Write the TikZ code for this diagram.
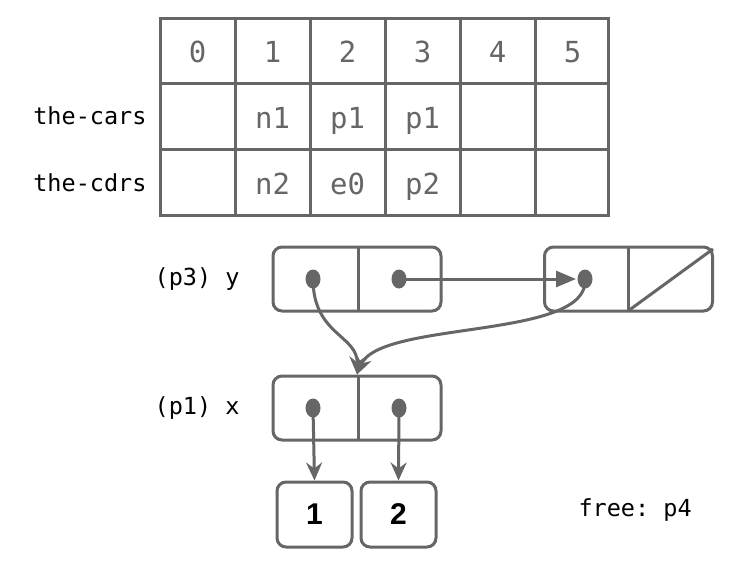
\documentclass[tikz,border=0pt]{standalone}
\usepackage{fontspec}
\setmonofont{DejaVu Sans Mono}
\setsansfont{Liberation Sans}
\usepackage{tikz}
\usetikzlibrary{arrows.meta,shapes.geometric}

\definecolor{inkgray}{HTML}{666666}

\begin{document}
\begin{tikzpicture}[x=1pt,y=-1pt,line width=3pt,draw=inkgray,
    every node/.style={inner sep=0pt},
    cell/.style={draw=inkgray,fill=white,rounded corners=9pt,minimum width=168pt,minimum height=64pt},
    numbox/.style={draw=inkgray,rounded corners=9pt,minimum width=75pt,minimum height=65pt,
      font=\sffamily\bfseries\fontsize{30}{30}\selectfont},
    dot/.style={ellipse,fill=inkgray,minimum width=15pt,minimum height=19pt},
    entry/.style={anchor=base,text=inkgray,font=\ttfamily\fontsize{29}{29}\selectfont},
    label/.style={font=\ttfamily\fontsize{23.5}{24}\selectfont},
    ptr/.style={draw=inkgray,-{Stealth[length=18pt,width=16pt,inset=6pt]}},
    hptr/.style={draw=inkgray,-{Triangle[length=20pt,width=16pt]}}]
  \useasboundingbox (0,0) rectangle (736,570);

  % the table
  \draw (160,18) rectangle (608,215);
  \foreach \x in {235,310,385,460,535} \draw (\x,18) -- (\x,215);
  \foreach \y in {83,149} \draw (160,\y) -- (608,\y);
  \foreach \i [evaluate=\i as \cx using 197.5+75*\i] in {0,...,5}
    \node[entry] (head\i) at (\cx,62) {\i};
  \node[entry] (car1) at (272.5,128) {n1};
  \node[entry] (car2) at (347.5,128) {p1};
  \node[entry] (car3) at (422.5,128) {p1};
  \node[entry] (cdr1) at (272.5,194) {n2};
  \node[entry] (cdr2) at (347.5,194) {e0};
  \node[entry] (cdr3) at (422.5,194) {p2};
  \node[label,anchor=east] (cars) at (148,116) {the-cars};
  \node[label,anchor=east] (cdrs) at (148,183) {the-cdrs};

  % cons cells
  \node[cell] (y) at (357,279) {};
  \draw (358,247) -- (358,311);
  \node[cell] (n) at (628.5,279) {};
  \draw (628,247) -- (628,311);
  \draw (628,311) -- (713,249);
  \node[cell] (x) at (357,408) {};
  \draw (358,376) -- (358,440);

  \node[label,anchor=east] (ylab) at (241,279) {(p3) y};
  \node[label,anchor=east] (xlab) at (241,408) {(p1) x};

  \node[dot] (ycar) at (313,279) {};
  \node[dot] (ycdr) at (399,279) {};
  \node[dot] (ncar) at (585,279) {};
  \node[dot] (xcar) at (313,408) {};
  \node[dot] (xcdr) at (399,408) {};

  \node[numbox] (one) at (314.5,514.5) {1};
  \node[numbox] (two) at (398.5,514.5) {2};
  \node[label,anchor=west] (free) at (577,510) {free: p4};

  % pointers
  \draw[hptr] (ycdr.center) -- (ncar.west);
  \draw[ptr] (ycar.center) .. controls (313,335) and (358,335) .. (x.north);
  \draw[ptr] (ncar.center) .. controls (590,340) and (380,320) .. (x.north);
  \draw[ptr] (xcar.center) -- (one.north);
  \draw[ptr] (xcdr.center) -- (two.north);
\end{tikzpicture}
\end{document}
